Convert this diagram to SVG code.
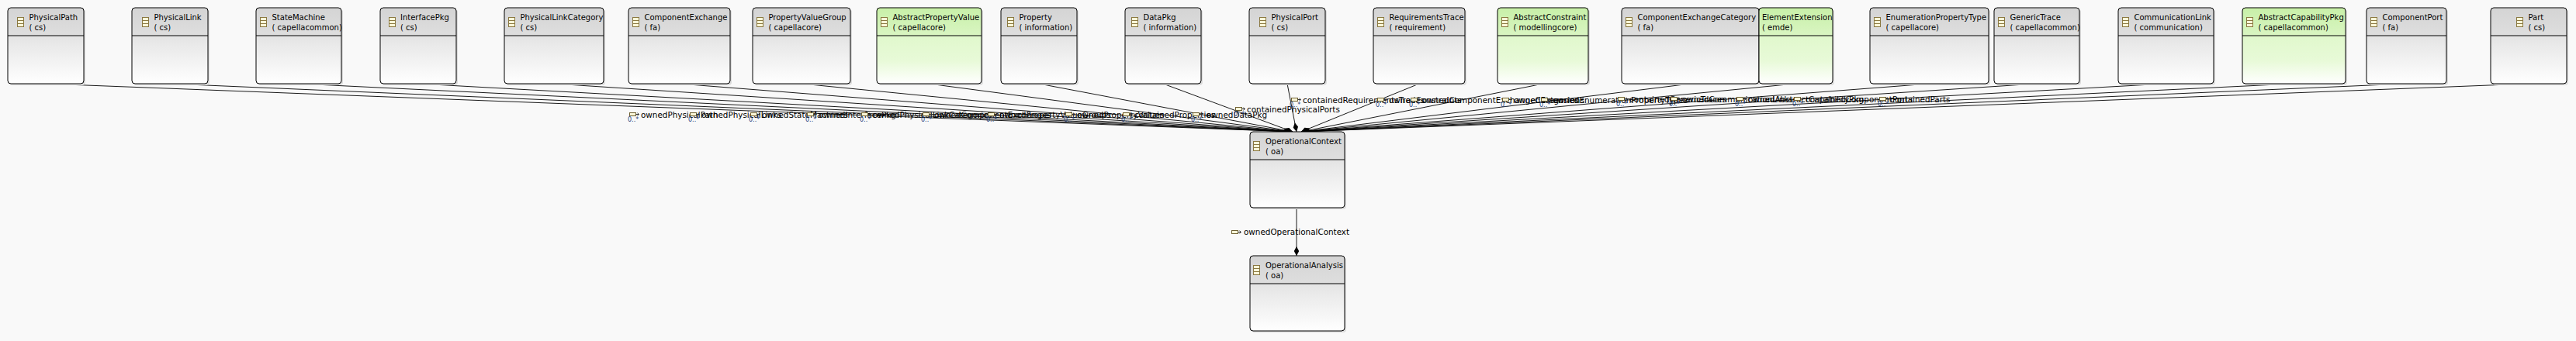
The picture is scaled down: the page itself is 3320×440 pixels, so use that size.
<svg xmlns="http://www.w3.org/2000/svg" width="3320" height="440" viewBox="0 0 3320 440">
<style>
text{font-family:"DejaVu Sans","Liberation Sans",sans-serif;font-size:10px;fill:#000}
#connectors text{font-size:10.4px}
#connectors text.m{font-size:8px;fill:#1f3f7a}
.sh{fill:#dcdcdc;stroke:none}
.bd{fill:url(#body);stroke:none}
.bg{fill:url(#bodyG);stroke:none}
.hd{fill:url(#head);stroke:none}
.hg{fill:url(#headG);stroke:none}
.ol{fill:none;stroke:#000;stroke-width:1}
.sep{stroke:#000;stroke-width:1}
.cn{fill:none;stroke:#000;stroke-width:.9;marker-end:url(#dia)}
.ic{fill:#fbf6d8;stroke:#8a7840;stroke-width:1}
.li{fill:#fbf6d8;stroke:#6d5f30;stroke-width:1}
.la{fill:none;stroke:#333;stroke-width:1}
</style>
<defs>
<linearGradient id="head" x1="0" y1="0" x2="0" y2="1"><stop offset="0" stop-color="#d4d4d4"/><stop offset="1" stop-color="#dedede"/></linearGradient>
<linearGradient id="headG" x1="0" y1="0" x2="0" y2="1"><stop offset="0" stop-color="#c8f0a8"/><stop offset="1" stop-color="#d9f5c2"/></linearGradient>
<linearGradient id="body" x1="0" y1="0" x2="0" y2="1"><stop offset="0.37" stop-color="#e4e4e4"/><stop offset="1" stop-color="#ffffff"/></linearGradient>
<linearGradient id="bodyG" x1="0" y1="0" x2="0" y2="1"><stop offset="0.37" stop-color="#e0f8cc"/><stop offset="0.7" stop-color="#e8fad8"/><stop offset="1" stop-color="#ffffff"/></linearGradient>
<marker id="dia" markerUnits="userSpaceOnUse" markerWidth="12" markerHeight="8" viewBox="0 0 12 8" refX="12" refY="4" orient="auto"><path d="M0 4 6 0.8 12 4 6 7.2Z" fill="#000"/></marker>
<g id="cls"><rect class="ic" x="0.5" y="0.5" width="8" height="12"/><path class="ic" d="M0.5 4.5H8.5M0.5 8.5H8.5"/></g>
<g id="ref"><rect class="li" x="0.5" y="0.5" width="8" height="4"/><path class="la" d="M8.5 2.5H12M10.5 0.8 12.5 2.5 10.5 4.2"/></g>
</defs>
<rect width="3320" height="440" fill="#f9f9f9"/>
<g id="connectors">
<path class="cn" d="M59 108 1666 170"/>
<path class="cn" d="M219 108 1666 170"/>
<path class="cn" d="M385 108 1666 170"/>
<path class="cn" d="M539 108 1666 170"/>
<path class="cn" d="M714 108 1666 170"/>
<path class="cn" d="M875 108 1666 170"/>
<path class="cn" d="M1033 108 1666 170"/>
<path class="cn" d="M1197 108 1666 170"/>
<path class="cn" d="M1339 108 1666 170"/>
<path class="cn" d="M1499 108 1666 170"/>
<path class="cn" d="M1659 108 1671 170"/>
<path class="cn" d="M1829 108 1677 170"/>
<path class="cn" d="M1989 108 1677 170"/>
<path class="cn" d="M2179 108 1677 170"/>
<path class="cn" d="M2314 108 1677 170"/>
<path class="cn" d="M2487 108 1677 170"/>
<path class="cn" d="M2625 108 1677 170"/>
<path class="cn" d="M2791 108 1677 170"/>
<path class="cn" d="M2956 108 1677 170"/>
<path class="cn" d="M3101 108 1677 170"/>
<path class="cn" d="M3259 108 1677 170"/>
<path class="cn" d="M1671 268V330"/>
<use href="#ref" x="811" y="145"/><text x="826" y="152">ownedPhysicalPath</text><text class="m" x="809" y="157">0..*</text>
<use href="#ref" x="889" y="145"/><text x="904" y="152">ownedPhysicalLinks</text><text class="m" x="887" y="157">0..*</text>
<use href="#ref" x="967" y="145"/><text x="982" y="152">ownedStateMachines</text><text class="m" x="965" y="157">0..*</text>
<use href="#ref" x="1040" y="145"/><text x="1055" y="152">ownedInterfacePkg</text><text class="m" x="1038" y="157">0..*</text>
<use href="#ref" x="1110" y="145"/><text x="1125" y="152">ownedPhysicalLinkCategories</text><text class="m" x="1108" y="157">0..*</text>
<use href="#ref" x="1189" y="145"/><text x="1204" y="152">ownedComponentExchanges</text><text class="m" x="1187" y="157">0..*</text>
<use href="#ref" x="1273" y="145"/><text x="1288" y="152">ownedPropertyValueGroups</text><text class="m" x="1271" y="157">0..*</text>
<use href="#ref" x="1373" y="145"/><text x="1388" y="152">ownedPropertyValues</text><text class="m" x="1371" y="157">0..*</text>
<use href="#ref" x="1447" y="145"/><text x="1462" y="152">containedProperties</text><text class="m" x="1445" y="157">0..*</text>
<use href="#ref" x="1537" y="145"/><text x="1555" y="152">ownedDataPkg</text><text class="m" x="1535" y="157">0..*</text>
<use href="#ref" x="1592" y="138"/><text x="1607" y="145">containedPhysicalPorts</text><text class="m" x="1590" y="150">0..*</text>
<use href="#ref" x="1664" y="126"/><text x="1679" y="133">containedRequirementsTraces</text><text class="m" x="1662" y="138">0..*</text>
<use href="#ref" x="1775" y="126"/><text x="1790" y="133">ownedConstraints</text><text class="m" x="1773" y="138">0..*</text>
<use href="#ref" x="1818" y="126"/><text x="1833" y="133">ownedComponentExchangeCategories</text><text class="m" x="1816" y="138">0..*</text>
<use href="#ref" x="1936" y="126"/><text x="1951" y="133">ownedExtensions</text><text class="m" x="1934" y="138">0..*</text>
<use href="#ref" x="1986" y="126"/><text x="2001" y="133">ownedEnumerationPropertyTypes</text><text class="m" x="1984" y="138">0..*</text>
<use href="#ref" x="2085" y="125"/><text x="2100" y="132">containedGenericTraces</text><text class="m" x="2083" y="137">0..*</text>
<use href="#ref" x="2153" y="125"/><text x="2168" y="132">ownedCommunicationLinks</text><text class="m" x="2151" y="137">0..*</text>
<use href="#ref" x="2238" y="125"/><text x="2253" y="132">ownedAbstractCapabilityPkg</text><text class="m" x="2236" y="137">0..*</text>
<use href="#ref" x="2312" y="125"/><text x="2327" y="132">containedComponentPorts</text><text class="m" x="2310" y="137">0..*</text>
<use href="#ref" x="2422" y="125"/><text x="2436" y="132">containedParts</text><text class="m" x="2420" y="137">0..*</text>
<use href="#ref" x="1587" y="297"/><text x="1603" y="303">ownedOperationalContext</text>
</g>
<g id="PhysicalPath" transform="translate(10,10)"><rect class="sh" x="2" y="2" width="98" height="98" rx="4"/><rect class="bd" width="98" height="98" rx="4"/><path class="hd" d="M0 36V4Q0 0 4 0H94Q98 0 98 4V36Z"/><path class="sep" d="M0 36H98"/><rect class="ol" width="98" height="98" rx="4"/><use href="#cls" x="12" y="12"/><text x="27.5" y="16">PhysicalPath</text><text x="27.5" y="29">( cs)</text></g>
<g id="PhysicalLink" transform="translate(170,10)"><rect class="sh" x="2" y="2" width="98" height="98" rx="4"/><rect class="bd" width="98" height="98" rx="4"/><path class="hd" d="M0 36V4Q0 0 4 0H94Q98 0 98 4V36Z"/><path class="sep" d="M0 36H98"/><rect class="ol" width="98" height="98" rx="4"/><use href="#cls" x="13" y="12"/><text x="28.5" y="16">PhysicalLink</text><text x="28.5" y="29">( cs)</text></g>
<g id="StateMachine" transform="translate(330,10)"><rect class="sh" x="2" y="2" width="110" height="98" rx="4"/><rect class="bd" width="110" height="98" rx="4"/><path class="hd" d="M0 36V4Q0 0 4 0H106Q110 0 110 4V36Z"/><path class="sep" d="M0 36H110"/><rect class="ol" width="110" height="98" rx="4"/><use href="#cls" x="5" y="12"/><text x="20.5" y="16">StateMachine</text><text x="20.5" y="29">( capellacommon)</text></g>
<g id="InterfacePkg" transform="translate(490,10)"><rect class="sh" x="2" y="2" width="98" height="98" rx="4"/><rect class="bd" width="98" height="98" rx="4"/><path class="hd" d="M0 36V4Q0 0 4 0H94Q98 0 98 4V36Z"/><path class="sep" d="M0 36H98"/><rect class="ol" width="98" height="98" rx="4"/><use href="#cls" x="11" y="12"/><text x="26" y="16">InterfacePkg</text><text x="26" y="29">( cs)</text></g>
<g id="PhysicalLinkCategory" transform="translate(650,10)"><rect class="sh" x="2" y="2" width="128" height="98" rx="4"/><rect class="bd" width="128" height="98" rx="4"/><path class="hd" d="M0 36V4Q0 0 4 0H124Q128 0 128 4V36Z"/><path class="sep" d="M0 36H128"/><rect class="ol" width="128" height="98" rx="4"/><use href="#cls" x="5" y="12"/><text x="20.5" y="16">PhysicalLinkCategory</text><text x="20.5" y="29">( cs)</text></g>
<g id="ComponentExchange" transform="translate(810,10)"><rect class="sh" x="2" y="2" width="131" height="98" rx="4"/><rect class="bd" width="131" height="98" rx="4"/><path class="hd" d="M0 36V4Q0 0 4 0H127Q131 0 131 4V36Z"/><path class="sep" d="M0 36H131"/><rect class="ol" width="131" height="98" rx="4"/><use href="#cls" x="5" y="12"/><text x="20.5" y="16">ComponentExchange</text><text x="20.5" y="29">( fa)</text></g>
<g id="PropertyValueGroup" transform="translate(970,10)"><rect class="sh" x="2" y="2" width="126" height="98" rx="4"/><rect class="bd" width="126" height="98" rx="4"/><path class="hd" d="M0 36V4Q0 0 4 0H122Q126 0 126 4V36Z"/><path class="sep" d="M0 36H126"/><rect class="ol" width="126" height="98" rx="4"/><use href="#cls" x="5" y="12"/><text x="20.5" y="16">PropertyValueGroup</text><text x="20.5" y="29">( capellacore)</text></g>
<g id="AbstractPropertyValue" transform="translate(1130,10)"><rect class="sh" x="2" y="2" width="135" height="98" rx="4"/><rect class="bg" width="135" height="98" rx="4"/><path class="hg" d="M0 36V4Q0 0 4 0H131Q135 0 135 4V36Z"/><path class="sep" d="M0 36H135"/><rect class="ol" width="135" height="98" rx="4"/><use href="#cls" x="5" y="12"/><text x="20.5" y="16">AbstractPropertyValue</text><text x="20.5" y="29">( capellacore)</text></g>
<g id="Property" transform="translate(1290,10)"><rect class="sh" x="2" y="2" width="98" height="98" rx="4"/><rect class="bd" width="98" height="98" rx="4"/><path class="hd" d="M0 36V4Q0 0 4 0H94Q98 0 98 4V36Z"/><path class="sep" d="M0 36H98"/><rect class="ol" width="98" height="98" rx="4"/><use href="#cls" x="8" y="12"/><text x="23.5" y="16">Property</text><text x="23.5" y="29">( information)</text></g>
<g id="DataPkg" transform="translate(1450,10)"><rect class="sh" x="2" y="2" width="98" height="98" rx="4"/><rect class="bd" width="98" height="98" rx="4"/><path class="hd" d="M0 36V4Q0 0 4 0H94Q98 0 98 4V36Z"/><path class="sep" d="M0 36H98"/><rect class="ol" width="98" height="98" rx="4"/><use href="#cls" x="8" y="12"/><text x="23.5" y="16">DataPkg</text><text x="23.5" y="29">( information)</text></g>
<g id="PhysicalPort" transform="translate(1610,10)"><rect class="sh" x="2" y="2" width="98" height="98" rx="4"/><rect class="bd" width="98" height="98" rx="4"/><path class="hd" d="M0 36V4Q0 0 4 0H94Q98 0 98 4V36Z"/><path class="sep" d="M0 36H98"/><rect class="ol" width="98" height="98" rx="4"/><use href="#cls" x="13" y="12"/><text x="28.5" y="16">PhysicalPort</text><text x="28.5" y="29">( cs)</text></g>
<g id="RequirementsTrace" transform="translate(1770,10)"><rect class="sh" x="2" y="2" width="118" height="98" rx="4"/><rect class="bd" width="118" height="98" rx="4"/><path class="hd" d="M0 36V4Q0 0 4 0H114Q118 0 118 4V36Z"/><path class="sep" d="M0 36H118"/><rect class="ol" width="118" height="98" rx="4"/><use href="#cls" x="5" y="12"/><text x="20.5" y="16">RequirementsTrace</text><text x="20.5" y="29">( requirement)</text></g>
<g id="AbstractConstraint" transform="translate(1930,10)"><rect class="sh" x="2" y="2" width="117" height="98" rx="4"/><rect class="bg" width="117" height="98" rx="4"/><path class="hg" d="M0 36V4Q0 0 4 0H113Q117 0 117 4V36Z"/><path class="sep" d="M0 36H117"/><rect class="ol" width="117" height="98" rx="4"/><use href="#cls" x="5" y="12"/><text x="20.5" y="16">AbstractConstraint</text><text x="20.5" y="29">( modellingcore)</text></g>
<g id="ComponentExchangeCategory" transform="translate(2090,10)"><rect class="sh" x="2" y="2" width="177" height="98" rx="4"/><rect class="bd" width="177" height="98" rx="4"/><path class="hd" d="M0 36V4Q0 0 4 0H173Q177 0 177 4V36Z"/><path class="sep" d="M0 36H177"/><rect class="ol" width="177" height="98" rx="4"/><use href="#cls" x="5" y="12"/><text x="20.5" y="16">ComponentExchangeCategory</text><text x="20.5" y="29">( fa)</text></g>
<g id="ElementExtension" transform="translate(2267,10)"><rect class="sh" x="2" y="2" width="95" height="98" rx="4"/><rect class="bg" width="95" height="98" rx="4"/><path class="hg" d="M0 36V4Q0 0 4 0H91Q95 0 95 4V36Z"/><path class="sep" d="M0 36H95"/><rect class="ol" width="95" height="98" rx="4"/><text x="4" y="16">ElementExtension</text><text x="4" y="29">( emde)</text></g>
<g id="EnumerationPropertyType" transform="translate(2410,10)"><rect class="sh" x="2" y="2" width="153" height="98" rx="4"/><rect class="bd" width="153" height="98" rx="4"/><path class="hd" d="M0 36V4Q0 0 4 0H149Q153 0 153 4V36Z"/><path class="sep" d="M0 36H153"/><rect class="ol" width="153" height="98" rx="4"/><use href="#cls" x="5" y="12"/><text x="20.5" y="16">EnumerationPropertyType</text><text x="20.5" y="29">( capellacore)</text></g>
<g id="GenericTrace" transform="translate(2570,10)"><rect class="sh" x="2" y="2" width="110" height="98" rx="4"/><rect class="bd" width="110" height="98" rx="4"/><path class="hd" d="M0 36V4Q0 0 4 0H106Q110 0 110 4V36Z"/><path class="sep" d="M0 36H110"/><rect class="ol" width="110" height="98" rx="4"/><use href="#cls" x="5" y="12"/><text x="20.5" y="16">GenericTrace</text><text x="20.5" y="29">( capellacommon)</text></g>
<g id="CommunicationLink" transform="translate(2730,10)"><rect class="sh" x="2" y="2" width="123" height="98" rx="4"/><rect class="bd" width="123" height="98" rx="4"/><path class="hd" d="M0 36V4Q0 0 4 0H119Q123 0 123 4V36Z"/><path class="sep" d="M0 36H123"/><rect class="ol" width="123" height="98" rx="4"/><use href="#cls" x="5" y="12"/><text x="20.5" y="16">CommunicationLink</text><text x="20.5" y="29">( communication)</text></g>
<g id="AbstractCapabilityPkg" transform="translate(2890,10)"><rect class="sh" x="2" y="2" width="133" height="98" rx="4"/><rect class="bg" width="133" height="98" rx="4"/><path class="hg" d="M0 36V4Q0 0 4 0H129Q133 0 133 4V36Z"/><path class="sep" d="M0 36H133"/><rect class="ol" width="133" height="98" rx="4"/><use href="#cls" x="5" y="12"/><text x="20.5" y="16">AbstractCapabilityPkg</text><text x="20.5" y="29">( capellacommon)</text></g>
<g id="ComponentPort" transform="translate(3050,10)"><rect class="sh" x="2" y="2" width="103" height="98" rx="4"/><rect class="bd" width="103" height="98" rx="4"/><path class="hd" d="M0 36V4Q0 0 4 0H99Q103 0 103 4V36Z"/><path class="sep" d="M0 36H103"/><rect class="ol" width="103" height="98" rx="4"/><use href="#cls" x="5" y="12"/><text x="20.5" y="16">ComponentPort</text><text x="20.5" y="29">( fa)</text></g>
<g id="Part" transform="translate(3210,10)"><rect class="sh" x="2" y="2" width="98" height="98" rx="4"/><rect class="bd" width="98" height="98" rx="4"/><path class="hd" d="M0 36V4Q0 0 4 0H94Q98 0 98 4V36Z"/><path class="sep" d="M0 36H98"/><rect class="ol" width="98" height="98" rx="4"/><use href="#cls" x="33" y="12"/><text x="48.5" y="16">Part</text><text x="48.5" y="29">( cs)</text></g>
<g id="OperationalContext" transform="translate(1611,170)"><rect class="sh" x="2" y="2" width="122" height="98" rx="4"/><rect class="bd" width="122" height="98" rx="4"/><path class="hd" d="M0 36V4Q0 0 4 0H118Q122 0 122 4V36Z"/><path class="sep" d="M0 36H122"/><rect class="ol" width="122" height="98" rx="4"/><use href="#cls" x="4" y="12"/><text x="20" y="16">OperationalContext</text><text x="20" y="29">( oa)</text></g>
<g id="OperationalAnalysis" transform="translate(1611,330)"><rect class="sh" x="2" y="2" width="122" height="97" rx="4"/><rect class="bd" width="122" height="97" rx="4"/><path class="hd" d="M0 36V4Q0 0 4 0H118Q122 0 122 4V36Z"/><path class="sep" d="M0 36H122"/><rect class="ol" width="122" height="97" rx="4"/><use href="#cls" x="4" y="12"/><text x="20" y="16">OperationalAnalysis</text><text x="20" y="29">( oa)</text></g>
</svg>
